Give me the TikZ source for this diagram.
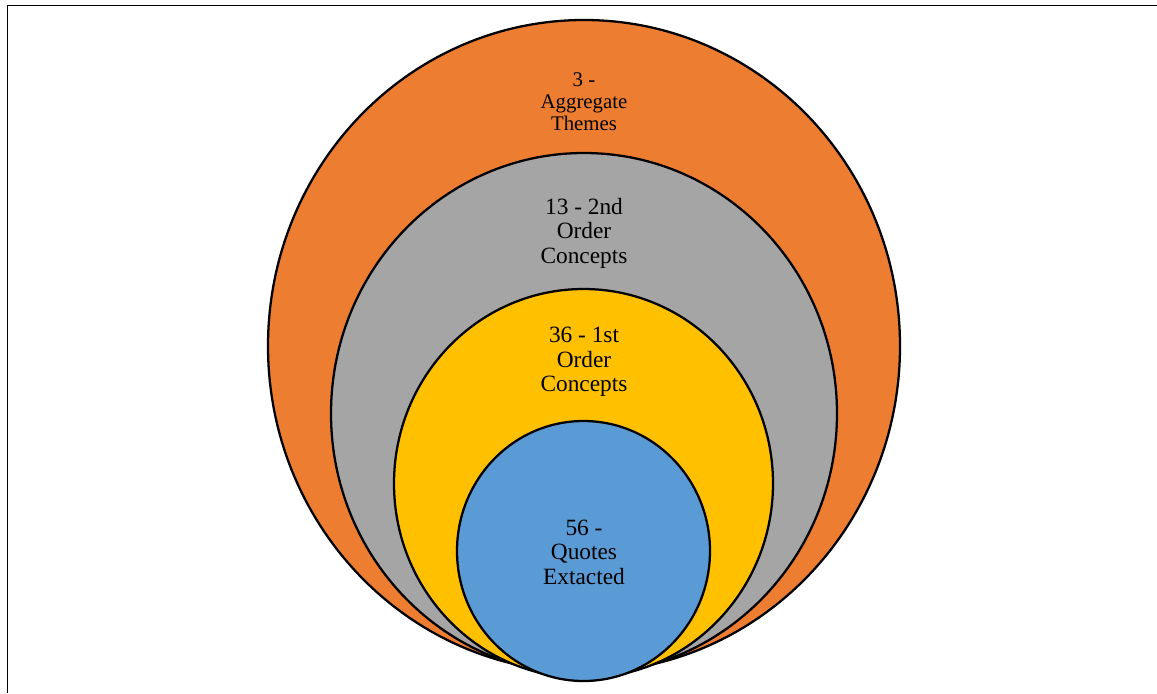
\documentclass[tikz,border=0pt]{standalone}
\usepackage{fontspec}
\setmainfont{Liberation Serif}
\usetikzlibrary{shapes.geometric}
\definecolor{cOrange}{HTML}{ED7D31}
\definecolor{cGray}{HTML}{A5A5A5}
\definecolor{cYellow}{HTML}{FFC000}
\definecolor{cBlue}{HTML}{5B9BD5}
\tikzset{
  ring/.style={ellipse, draw=black, line width=1.7pt, inner sep=0pt},
  lbl/.style={align=center, text=black, inner sep=0pt},
}
\begin{document}
\begin{tikzpicture}[x=0.75pt,y=-0.75pt]
\useasboundingbox (0,0) rectangle (1157,693);
\fill[white] (0,0) rectangle (1157,693);
\draw[line width=1.4pt] (7.5,693) -- (7.5,5.5) -- (1157,5.5);
\node[ring, fill=cOrange, minimum width=474pt, minimum height=489pt] (orange) at (584,346) {};
\node[ring, fill=cGray, minimum width=379.5pt, minimum height=390.75pt] (gray) at (584,413.5) {};
\node[ring, fill=cYellow, minimum width=284.25pt, minimum height=291.75pt] (yellow) at (583.5,483.5) {};
\node[ring, fill=cBlue, minimum width=189.75pt, minimum height=195pt] (blue) at (583.5,551) {};
\node[lbl, font=\fontsize{15.6}{16.5}\selectfont] (torange) at (584,102) {3 -\\Aggregate\\Themes};
\node[lbl, font=\fontsize{17.5}{18.4}\selectfont] (tgray) at (584,233) {13 - 2nd\\Order\\Concepts};
\node[lbl, font=\fontsize{17.5}{18.4}\selectfont] (tyellow) at (584,362) {36 - 1st\\Order\\Concepts};
\node[lbl, font=\fontsize{17.5}{18.4}\selectfont] (tblue) at (584,552) {56 -\\Quotes\\Extacted};
\end{tikzpicture}
\end{document}
